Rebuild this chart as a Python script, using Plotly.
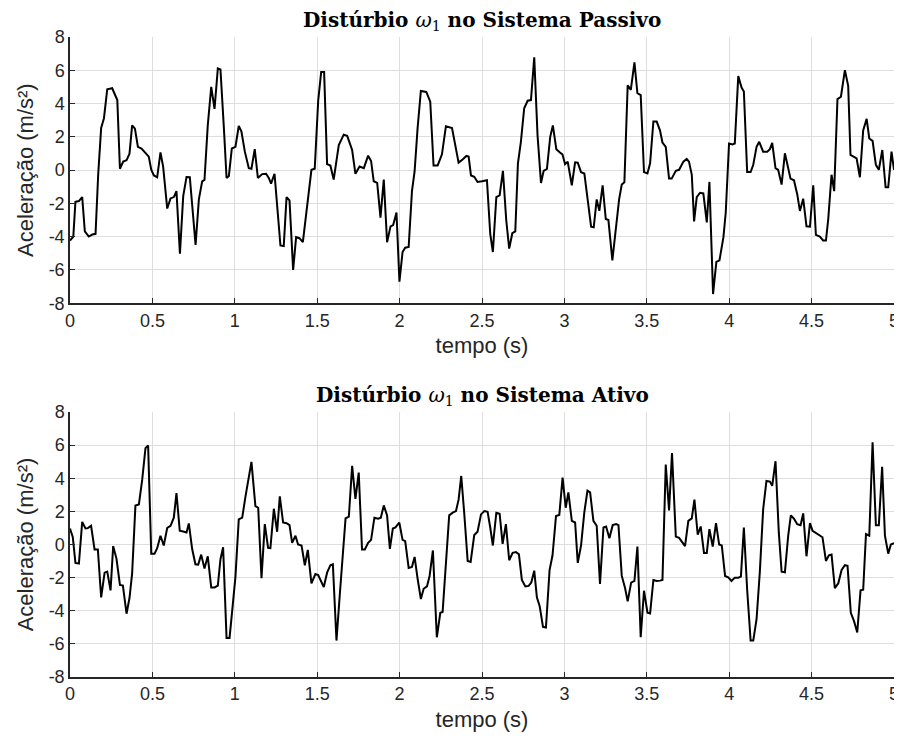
import plotly.graph_objects as go
from plotly.subplots import make_subplots

# Disturbance, passive system
t_passivo = [
    0.0, 0.02, 0.033, 0.054, 0.074, 0.09, 0.114, 0.135, 0.155, 0.171, 0.189, 0.206, 0.226, 0.256, 0.287,
    0.303, 0.323, 0.343, 0.361, 0.377, 0.394, 0.412, 0.434, 0.458, 0.478, 0.493, 0.509, 0.529, 0.549, 0.565,
    0.59, 0.61, 0.63, 0.646, 0.667, 0.687, 0.707, 0.727, 0.762, 0.782, 0.802, 0.816, 0.836, 0.857, 0.877,
    0.897, 0.913, 0.934, 0.95, 0.964, 0.982, 1.004, 1.024, 1.04, 1.061, 1.085, 1.101, 1.121, 1.14, 1.166,
    1.19, 1.206, 1.22, 1.241, 1.277, 1.297, 1.314, 1.332, 1.354, 1.372, 1.392, 1.413, 1.439, 1.465, 1.485,
    1.506, 1.524, 1.542, 1.56, 1.58, 1.6, 1.631, 1.661, 1.682, 1.712, 1.732, 1.757, 1.783, 1.809, 1.827,
    1.843, 1.864, 1.884, 1.904, 1.924, 1.945, 1.961, 1.981, 1.999, 2.018, 2.034, 2.055, 2.075, 2.091, 2.109,
    2.129, 2.162, 2.186, 2.206, 2.231, 2.257, 2.281, 2.318, 2.338, 2.358, 2.384, 2.405, 2.419, 2.433, 2.453,
    2.473, 2.5, 2.53, 2.55, 2.566, 2.587, 2.607, 2.627, 2.647, 2.665, 2.684, 2.702, 2.718, 2.736, 2.756,
    2.777, 2.797, 2.817, 2.837, 2.858, 2.874, 2.894, 2.914, 2.93, 2.951, 2.971, 2.988, 3.004, 3.02, 3.045,
    3.065, 3.081, 3.101, 3.121, 3.146, 3.162, 3.178, 3.196, 3.212, 3.232, 3.251, 3.267, 3.291, 3.311, 3.332,
    3.348, 3.364, 3.384, 3.403, 3.425, 3.443, 3.463, 3.483, 3.504, 3.52, 3.54, 3.56, 3.58, 3.595, 3.615,
    3.635, 3.651, 3.676, 3.696, 3.722, 3.742, 3.756, 3.773, 3.787, 3.803, 3.823, 3.843, 3.864, 3.88, 3.902,
    3.922, 3.941, 3.965, 3.979, 3.999, 4.02, 4.034, 4.055, 4.075, 4.089, 4.109, 4.13, 4.146, 4.166, 4.182,
    4.206, 4.231, 4.247, 4.261, 4.281, 4.297, 4.318, 4.338, 4.358, 4.372, 4.393, 4.413, 4.429, 4.449, 4.469,
    4.49, 4.51, 4.526, 4.55, 4.57, 4.587, 4.601, 4.621, 4.637, 4.657, 4.678, 4.702, 4.722, 4.736, 4.757,
    4.773, 4.793, 4.813, 4.834, 4.85, 4.87, 4.89, 4.908, 4.929, 4.949, 4.965, 4.985, 5.0,
]
a_passivo = [
    -4.23, -4.0, -1.9, -1.86, -1.62, -3.68, -3.99, -3.87, -3.83, -0.28, 2.53, 3.12, 4.86, 4.92, 4.21,
    0.08, 0.51, 0.59, 0.99, 2.69, 2.49, 1.40, 1.30, 1.01, 0.81, 0.02, -0.32, -0.43, 1.07, 0.22,
    -2.31, -1.70, -1.62, -1.26, -5.02, -1.56, -0.42, -0.43, -4.49, -1.76, -0.67, -0.59, 2.69, 5.0, 3.68,
    6.11, 6.05, 2.49, -0.47, -0.35, 1.30, 1.40, 2.65, 2.33, 1.11, 0.12, 0.08, 1.26, -0.47, -0.24,
    -0.22, -0.47, -0.81, -0.22, -4.53, -4.57, -1.62, -1.82, -6.0, -4.03, -4.09, -4.33, -2.25, 0.02, 0.08,
    4.17, 5.89, 5.89, 0.36, 0.28, -0.57, 1.50, 2.13, 2.06, 1.21, -0.22, 0.22, 0.12, 0.87, 0.55,
    -0.67, -0.77, -2.85, -0.57, -4.33, -3.38, -3.30, -2.55, -6.70, -4.92, -4.66, -4.62, -1.26, -0.08, 2.49,
    4.76, 4.70, 4.11, 0.28, 0.28, 0.95, 2.63, 2.53, 1.40, 0.45, 0.65, 0.85, 0.81, -0.32, -0.40,
    -0.71, -0.67, -0.61, -3.83, -4.92, -1.62, -1.52, -0.04, -3.0, -4.72, -3.79, -3.68, 0.41, 1.70, 3.72,
    4.17, 4.21, 6.78, 2.09, -0.77, -0.04, 0.08, 2.0, 2.69, 1.26, 1.07, 0.95, 0.36, 0.51, -0.91,
    0.47, 0.45, -0.12, -0.20, -2.25, -3.40, -3.44, -1.76, -2.45, -0.91, -2.94, -3.0, -5.42, -3.50, -1.76,
    -0.87, -0.73, 5.10, 4.82, 6.48, 4.62, 4.51, -0.12, -0.20, 0.41, 2.92, 2.92, 2.39, 1.66, 1.40,
    -0.51, -0.51, -0.04, 0.02, 0.51, 0.67, 0.51, -0.28, -3.08, -1.62, -1.36, -1.40, -3.14, -0.71, -7.45,
    -5.51, -5.42, -4.03, -2.55, 1.60, 1.54, 1.60, 5.65, 4.96, 4.72, -0.12, -0.12, 0.32, 1.40, 1.70,
    1.11, 1.11, 1.26, 1.64, 0.12, 0.02, -0.87, 1.01, 0.16, -0.51, -0.61, -1.46, -2.45, -1.72, -3.38,
    -3.40, -0.91, -3.89, -3.99, -4.23, -4.23, -2.94, -0.28, -1.26, 4.27, 4.41, 6.01, 5.06, 0.91, 0.77,
    0.71, -0.43, 2.39, 3.08, 1.90, 1.76, 0.32, 0.02, 1.21, -1.03, -1.03, 1.11, 0.02,
]

# Disturbance, active system
t_ativo = [
    0.0, 0.017, 0.033, 0.054, 0.074, 0.094, 0.108, 0.128, 0.149, 0.169, 0.189, 0.21, 0.226, 0.246, 0.262,
    0.282, 0.303, 0.321, 0.343, 0.361, 0.377, 0.397, 0.418, 0.438, 0.458, 0.474, 0.493, 0.513, 0.529, 0.549,
    0.569, 0.59, 0.61, 0.63, 0.646, 0.666, 0.687, 0.707, 0.721, 0.741, 0.761, 0.778, 0.796, 0.816, 0.836,
    0.857, 0.877, 0.897, 0.913, 0.929, 0.95, 0.968, 0.984, 1.004, 1.024, 1.045, 1.065, 1.101, 1.125, 1.142,
    1.162, 1.182, 1.202, 1.216, 1.237, 1.257, 1.273, 1.293, 1.314, 1.332, 1.348, 1.368, 1.384, 1.405, 1.425,
    1.443, 1.465, 1.489, 1.506, 1.524, 1.54, 1.56, 1.58, 1.595, 1.617, 1.637, 1.655, 1.672, 1.692, 1.712,
    1.732, 1.752, 1.772, 1.789, 1.809, 1.827, 1.847, 1.87, 1.886, 1.904, 1.924, 1.941, 1.959, 1.975, 1.998,
    2.018, 2.034, 2.055, 2.075, 2.091, 2.109, 2.129, 2.146, 2.166, 2.182, 2.202, 2.226, 2.247, 2.261, 2.281,
    2.301, 2.322, 2.342, 2.358, 2.374, 2.392, 2.413, 2.431, 2.453, 2.473, 2.494, 2.514, 2.534, 2.55, 2.566,
    2.587, 2.607, 2.625, 2.645, 2.665, 2.686, 2.706, 2.724, 2.742, 2.763, 2.783, 2.799, 2.817, 2.833, 2.85,
    2.87, 2.888, 2.91, 2.928, 2.949, 2.969, 2.989, 3.008, 3.024, 3.045, 3.065, 3.081, 3.101, 3.121, 3.14,
    3.156, 3.176, 3.196, 3.216, 3.237, 3.253, 3.273, 3.293, 3.314, 3.328, 3.348, 3.368, 3.384, 3.405, 3.425,
    3.443, 3.463, 3.483, 3.504, 3.52, 3.54, 3.56, 3.58, 3.595, 3.615, 3.635, 3.653, 3.676, 3.696, 3.716,
    3.732, 3.752, 3.773, 3.789, 3.809, 3.827, 3.847, 3.864, 3.88, 3.9, 3.92, 3.939, 3.955, 3.975, 3.994,
    4.014, 4.034, 4.055, 4.071, 4.089, 4.109, 4.13, 4.146, 4.166, 4.186, 4.206, 4.226, 4.247, 4.261, 4.281,
    4.301, 4.318, 4.338, 4.358, 4.374, 4.393, 4.413, 4.433, 4.449, 4.469, 4.49, 4.506, 4.526, 4.546, 4.566,
    4.587, 4.605, 4.621, 4.641, 4.662, 4.682, 4.702, 4.718, 4.738, 4.757, 4.777, 4.797, 4.813, 4.83, 4.85,
    4.87, 4.89, 4.908, 4.928, 4.945, 4.965, 4.981, 5.0,
]
a_ativo = [
    0.97, 0.44, -1.11, -1.15, 1.37, 0.97, 0.99, 1.13, -0.30, -0.30, -3.19, -1.70, -1.64, -2.77, -0.10,
    -0.85, -2.44, -2.48, -4.18, -3.23, -1.74, 2.36, 2.42, 3.90, 5.82, 5.98, -0.55, -0.55, -0.22, 0.53,
    -0.06, 1.01, 1.13, 1.62, 3.11, 0.83, 0.79, 0.73, 1.27, -0.26, -1.19, -1.21, -0.61, -1.45, -0.71,
    -2.59, -2.59, -2.48, -0.89, -0.16, -5.64, -5.64, -4.02, -1.94, 1.52, 1.62, 2.91, 4.99, 2.32, 2.22,
    -2.04, 1.23, -0.20, -0.22, 2.16, 0.77, 2.91, 1.33, 1.29, 1.17, 0.10, 0.53, 0.0, -0.06, -1.25,
    -0.32, -2.34, -1.78, -1.84, -2.24, -2.57, -1.70, -1.25, -1.19, -5.80, -3.03, -0.36, 1.58, 1.68, 4.75,
    2.75, 4.34, -0.30, -0.30, 0.10, 0.28, 1.62, 1.56, 1.62, 2.36, 1.76, -0.26, 0.97, 1.03, 1.33,
    0.28, 0.20, -1.41, -1.35, -0.75, -2.04, -3.29, -2.67, -2.53, -1.90, -0.36, -5.60, -4.12, -4.08, -1.05,
    1.76, 1.92, 2.02, 2.71, 4.14, 1.92, -0.99, -1.05, 0.57, 0.77, 1.82, 2.02, 1.98, 1.03, -0.06,
    1.92, 1.86, 0.04, 1.23, -0.95, -0.50, -0.46, -0.59, -2.14, -2.53, -2.50, -2.30, -1.58, -3.19, -3.72,
    -4.97, -5.01, -1.54, -0.65, 1.72, 1.78, 4.04, 2.22, 3.15, 1.43, 1.33, -1.11, -0.06, 1.96, 3.25,
    3.15, 1.43, 1.13, -2.38, 1.03, 1.09, 0.38, 1.17, 1.23, 1.17, -1.88, -2.63, -3.43, -2.30, -2.20,
    -0.12, -5.60, -2.79, -4.12, -4.16, -2.14, -2.20, -2.18, -2.14, 4.83, 2.06, 5.52, 0.48, 0.40, 0.14,
    -0.10, 1.43, 1.58, 2.71, 0.59, 1.09, -0.51, -0.51, 0.93, -0.12, 1.29, 0.0, -0.06, -1.90, -1.98,
    -2.20, -2.0, -2.0, -1.94, 1.03, -2.73, -5.80, -5.80, -4.51, -1.64, 2.12, 3.84, 3.80, 3.54, 5.03,
    0.73, -1.64, -1.68, 0.53, 1.76, 1.56, 1.23, 1.17, 1.88, -0.71, 1.29, 0.83, 0.69, 0.57, 0.44,
    -0.99, -0.65, -0.61, -2.63, -2.34, -1.54, -1.25, -1.29, -4.12, -4.61, -5.31, -2.77, -2.73, 0.63, 0.53,
    6.18, 1.17, 1.17, 4.69, 0.53, -0.55, 0.0, 0.08,
]

x_ticks = [0, 0.5, 1, 1.5, 2, 2.5, 3, 3.5, 4, 4.5, 5]
y_ticks = [-8, -6, -4, -2, 0, 2, 4, 6, 8]

titulos = [
    "<b>Distúrbio </b><i>ω</i><sub>1</sub><b> no Sistema Passivo</b>",
    "<b>Distúrbio </b><i>ω</i><sub>1</sub><b> no Sistema Ativo</b>",
]

fig = make_subplots(rows=2, cols=1, vertical_spacing=0.17)

fig.add_trace(go.Scatter(x=t_passivo, y=a_passivo, mode="lines",
                         line=dict(color="black", width=2)), row=1, col=1)
fig.add_trace(go.Scatter(x=t_ativo, y=a_ativo, mode="lines",
                         line=dict(color="black", width=2)), row=2, col=1)

tick_font = dict(family="Liberation Sans, Arial", size=18, color="#262626")
title_font = dict(family="Liberation Sans, Arial", size=22, color="#262626")

for r in (1, 2):
    fig.update_xaxes(
        range=[0, 5], tickvals=x_ticks, ticktext=[f"{v:g}" for v in x_ticks],
        showgrid=True, gridcolor="#dedede", gridwidth=1,
        showline=True, linecolor="#262626", linewidth=1.5,
        ticks="inside", ticklen=5, tickcolor="#262626", tickwidth=1,
        tickfont=tick_font, zeroline=False, automargin=False,
        title=dict(text="tempo (s)", font=title_font, standoff=8),
        row=r, col=1,
    )
    fig.update_yaxes(
        range=[-8, 8], tickvals=y_ticks, ticktext=[f"{v:d}" for v in y_ticks],
        showgrid=True, gridcolor="#dedede", gridwidth=1,
        showline=True, linecolor="#262626", linewidth=1.5,
        ticks="inside", ticklen=5, tickcolor="#262626", tickwidth=1,
        tickfont=tick_font, zeroline=False, automargin=False,
        title=dict(text="Aceleração (m/s²)", font=title_font, standoff=9),
        row=r, col=1,
    )

# the page adds an 8 px body margin, so the figure is drawn 8 px smaller
fig.update_layout(
    width=894, height=747,
    margin=dict(l=62, r=8, t=29, b=78),
    paper_bgcolor="white", plot_bgcolor="white",
    showlegend=False,
    yaxis=dict(domain=[0.584, 1.0]),
    yaxis2=dict(domain=[0.0, 0.414]),
)

for i, txt in enumerate(titulos):
    fig.add_annotation(
        text=txt, xref="x domain" if i == 0 else "x2 domain",
        yref="y domain" if i == 0 else "y2 domain",
        x=0.5, y=1.0, yshift=1, xanchor="center", yanchor="bottom", showarrow=False,
        font=dict(family="DejaVu Serif, Liberation Serif", size=20, color="black"),
    )

fig.write_html("out.html")
